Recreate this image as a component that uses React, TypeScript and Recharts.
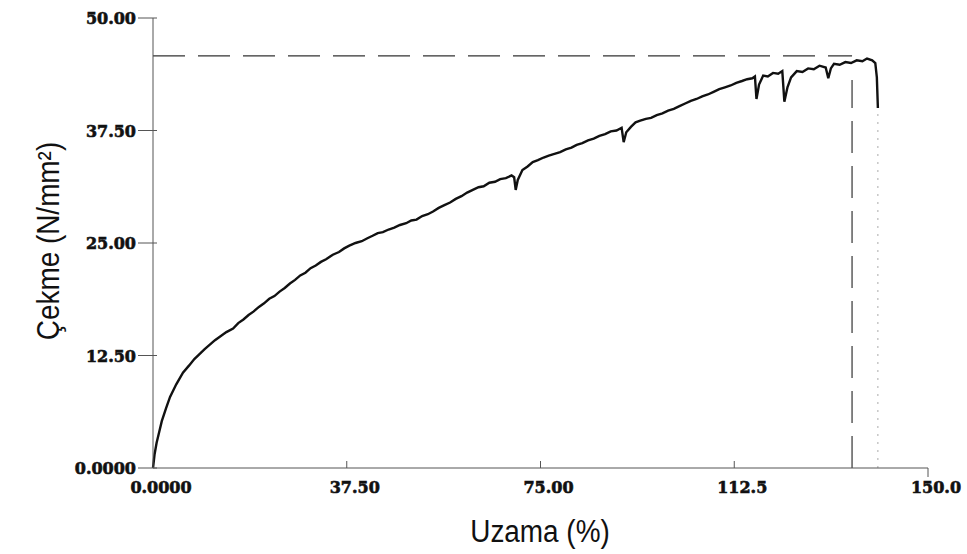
import React from 'react';
import { LineChart, Line, XAxis, YAxis, ReferenceLine } from 'recharts';

// strain (%)
const elongation = [
  0, 0.3, 0.7, 1.2, 1.7, 2.5, 3.3, 4.5, 5.8, 7.0, 8.0, 9.1, 10.0, 11.0, 12.0, 13.0,
  14.2, 15.5, 16.5, 17.5, 18.5, 19.5, 20.5, 21.5, 22.5, 23.5, 24.5, 25.5, 26.5, 27.5,
  28.5, 29.5, 30.5, 31.5, 32.5, 33.5, 34.8, 36.0, 37.0, 38.0, 39.2, 40.4, 41.4, 42.5,
  43.5, 44.5, 45.6, 46.7, 47.8, 49.0, 50.0, 51.0, 52.1, 53.2, 54.2, 55.3, 56.4, 57.5,
  58.6, 59.7, 60.8, 61.9, 63.0, 64.0, 65.1, 66.2, 67.2, 68.3, 69.4, 69.9, 70.2, 70.6,
  71.5, 72.5, 73.5, 74.5, 75.6, 76.6, 77.7, 78.8, 79.9, 81.0, 82.0, 83.1, 84.2, 85.3,
  86.4, 87.5, 88.6, 89.7, 90.7, 91.1, 91.6, 92.5, 93.4, 94.3, 95.4, 96.4, 97.5, 98.6,
  99.7, 100.8, 101.9, 103.0, 104.1, 105.2, 106.3, 107.4, 108.5, 109.6, 110.7, 111.8,
  112.9, 114.0, 115.0, 116.0, 116.5, 116.8, 117.3, 118.1, 119.0, 120.0, 121.0, 121.8,
  122.2, 122.8, 123.5, 124.6, 125.7, 126.8, 127.9, 129.0, 130.2, 130.7, 131.2, 131.8,
  132.9, 134.0, 135.1, 136.2, 137.3, 138.2, 139.2, 139.8, 140.1, 140.3,
];

// stress (N/mm2)
const stress = [
  0, 1.5, 2.8, 4.0, 5.2, 6.6, 7.9, 9.3, 10.6, 11.4, 12.1, 12.7, 13.2, 13.7, 14.2, 14.6,
  15.1, 15.5, 16.1, 16.5, 17.0, 17.4, 17.9, 18.3, 18.8, 19.1, 19.6, 20.0, 20.5, 20.9,
  21.4, 21.7, 22.2, 22.5, 22.9, 23.2, 23.7, 24.0, 24.4, 24.7, 25.0, 25.2, 25.5, 25.8,
  26.1, 26.2, 26.5, 26.7, 27.0, 27.2, 27.5, 27.6, 28.0, 28.2, 28.5, 28.9, 29.2, 29.5,
  29.9, 30.2, 30.6, 30.9, 31.2, 31.3, 31.7, 31.8, 32.1, 32.2, 32.5, 32.3, 30.9, 32.0,
  33.1, 33.5, 34.0, 34.2, 34.5, 34.7, 34.9, 35.1, 35.4, 35.6, 35.9, 36.1, 36.4, 36.6,
  36.9, 37.1, 37.4, 37.5, 37.8, 36.2, 37.3, 37.9, 38.4, 38.6, 38.8, 38.9, 39.2, 39.4,
  39.7, 39.9, 40.2, 40.5, 40.8, 41.0, 41.3, 41.5, 41.8, 42.1, 42.3, 42.5,
  42.8, 43.0, 43.2, 43.3, 43.5, 41.0, 42.6, 43.6, 43.5, 43.9, 43.8, 44.1,
  40.7, 42.3, 43.4, 44.1, 44.0, 44.4, 44.3, 44.7, 44.5, 43.3, 44.4, 44.9,
  44.8, 45.1, 45.0, 45.3, 45.2, 45.5, 45.3, 45.0, 43.4, 40.0,
];

const xTicks = [0, 37.5, 75, 112.5, 150];
const xTickLabels = ['0.0000', '37.50', '75.00', '112.5', '150.0'];
const yTicks = [0, 12.5, 25, 37.5, 50];
const yTickLabels = ['0.0000', '12.50', '25.00', '37.50', '50.00'];

// marker lines
const peakStress = 45.8;
const breakStrain = 135.3;
const breakStress = 43.1;
const endStrain = 140.3;
const endStress = 40;

const data = elongation.map((x, i) => ({ x, y: stress[i] }));

const AXIS = '#555';
const tickText = {
  fontFamily: '"DejaVu Serif", serif',
  fontWeight: 700,
  fontSize: 16,
  fill: '#111',
  stroke: '#111',
  strokeWidth: 0.6,
};

const BottomTick = (props: any) => {
  const { x, y, payload } = props;
  const i = xTicks.indexOf(payload.value);
  const last = i === xTicks.length - 1;
  return (
    <g>
      {i > 0 && (
        <line x1={x} x2={x} y1={last ? y : y - 7} y2={last ? y + 9 : y} stroke={AXIS} />
      )}
      <text x={x + 8} y={y + 25} textAnchor="middle" {...tickText}>
        {xTickLabels[i]}
      </text>
    </g>
  );
};

const TopTick = (props: any) => {
  const { x, y, payload } = props;
  const i = xTicks.indexOf(payload.value);
  if (i <= 0 || i === xTicks.length - 1) return <g />;
  return <line x1={x} x2={x} y1={y} y2={y + 5} stroke={AXIS} />;
};

const LeftTick = (props: any) => {
  const { x, y, payload } = props;
  const i = yTicks.indexOf(payload.value);
  return (
    <g>
      <line x1={x - 15} x2={x + 4} y1={y} y2={y} stroke={AXIS} />
      <text x={x - 17} y={y + 6} textAnchor="end" {...tickText}>
        {yTickLabels[i]}
      </text>
    </g>
  );
};

const titleFont: React.CSSProperties = {
  position: 'absolute',
  fontFamily: '"Liberation Sans", Arial, sans-serif',
  fontSize: 31,
  lineHeight: 1,
  whiteSpace: 'nowrap',
  color: '#111',
};

export default function App() {
  return (
    <div style={{ position: 'absolute', left: 0, top: 0, width: 967, height: 554, background: '#fff' }}>
      <LineChart
        width={967}
        height={554}
        data={data}
        margin={{ top: 18, right: 39, bottom: 56, left: 93 }}
      >
        <XAxis
          xAxisId="b"
          type="number"
          dataKey="x"
          domain={[0, 150]}
          ticks={xTicks}
          interval={0}
          tick={BottomTick}
          tickLine={false}
          tickSize={0}
          tickMargin={0}
          axisLine={{ stroke: AXIS }}
          height={30}
        />
        <XAxis
          xAxisId="t"
          orientation="top"
          type="number"
          dataKey="x"
          domain={[0, 150]}
          ticks={xTicks}
          interval={0}
          tick={TopTick}
          tickLine={false}
          tickSize={0}
          tickMargin={0}
          axisLine={{ stroke: AXIS }}
          height={0}
        />
        <YAxis
          yAxisId="l"
          type="number"
          domain={[0, 50]}
          ticks={yTicks}
          interval={0}
          tick={LeftTick}
          tickLine={false}
          tickSize={0}
          tickMargin={0}
          axisLine={{ stroke: AXIS }}
          width={60}
        />
        <YAxis
          yAxisId="r"
          orientation="right"
          type="number"
          domain={[0, 50]}
          tick={false}
          tickLine={false}
          axisLine={{ stroke: AXIS }}
          width={0}
        />
        <ReferenceLine
          xAxisId="b"
          yAxisId="l"
          segment={[{ x: 0, y: peakStress }, { x: breakStrain, y: peakStress }]}
          stroke="#333"
          strokeWidth={1.2}
          strokeDasharray="32 13"
        />
        <ReferenceLine
          xAxisId="b"
          yAxisId="l"
          segment={[{ x: breakStrain, y: 0 }, { x: breakStrain, y: breakStress }]}
          stroke="#333"
          strokeWidth={1.2}
          strokeDasharray="32 13"
        />
        <ReferenceLine
          xAxisId="b"
          yAxisId="l"
          segment={[{ x: endStrain, y: 0 }, { x: endStrain, y: endStress }]}
          stroke="#aaa"
          strokeWidth={1}
          strokeDasharray="2 6"
        />
        <Line
          xAxisId="b"
          yAxisId="l"
          type="linear"
          dataKey="y"
          stroke="#111"
          strokeWidth={2.4}
          dot={false}
          isAnimationActive={false}
        />
      </LineChart>
      <div
        style={{
          ...titleFont,
          left: 540,
          top: 531,
          transform: 'translate(-50%, -50%) scaleX(0.9)',
        }}
      >
        Uzama (%)
      </div>
      <div
        style={{
          ...titleFont,
          left: 48,
          top: 241,
          transform: 'translate(-50%, -50%) rotate(-90deg) scaleX(0.9)',
        }}
      >
        Çekme (N/mm²)
      </div>
    </div>
  );
}
